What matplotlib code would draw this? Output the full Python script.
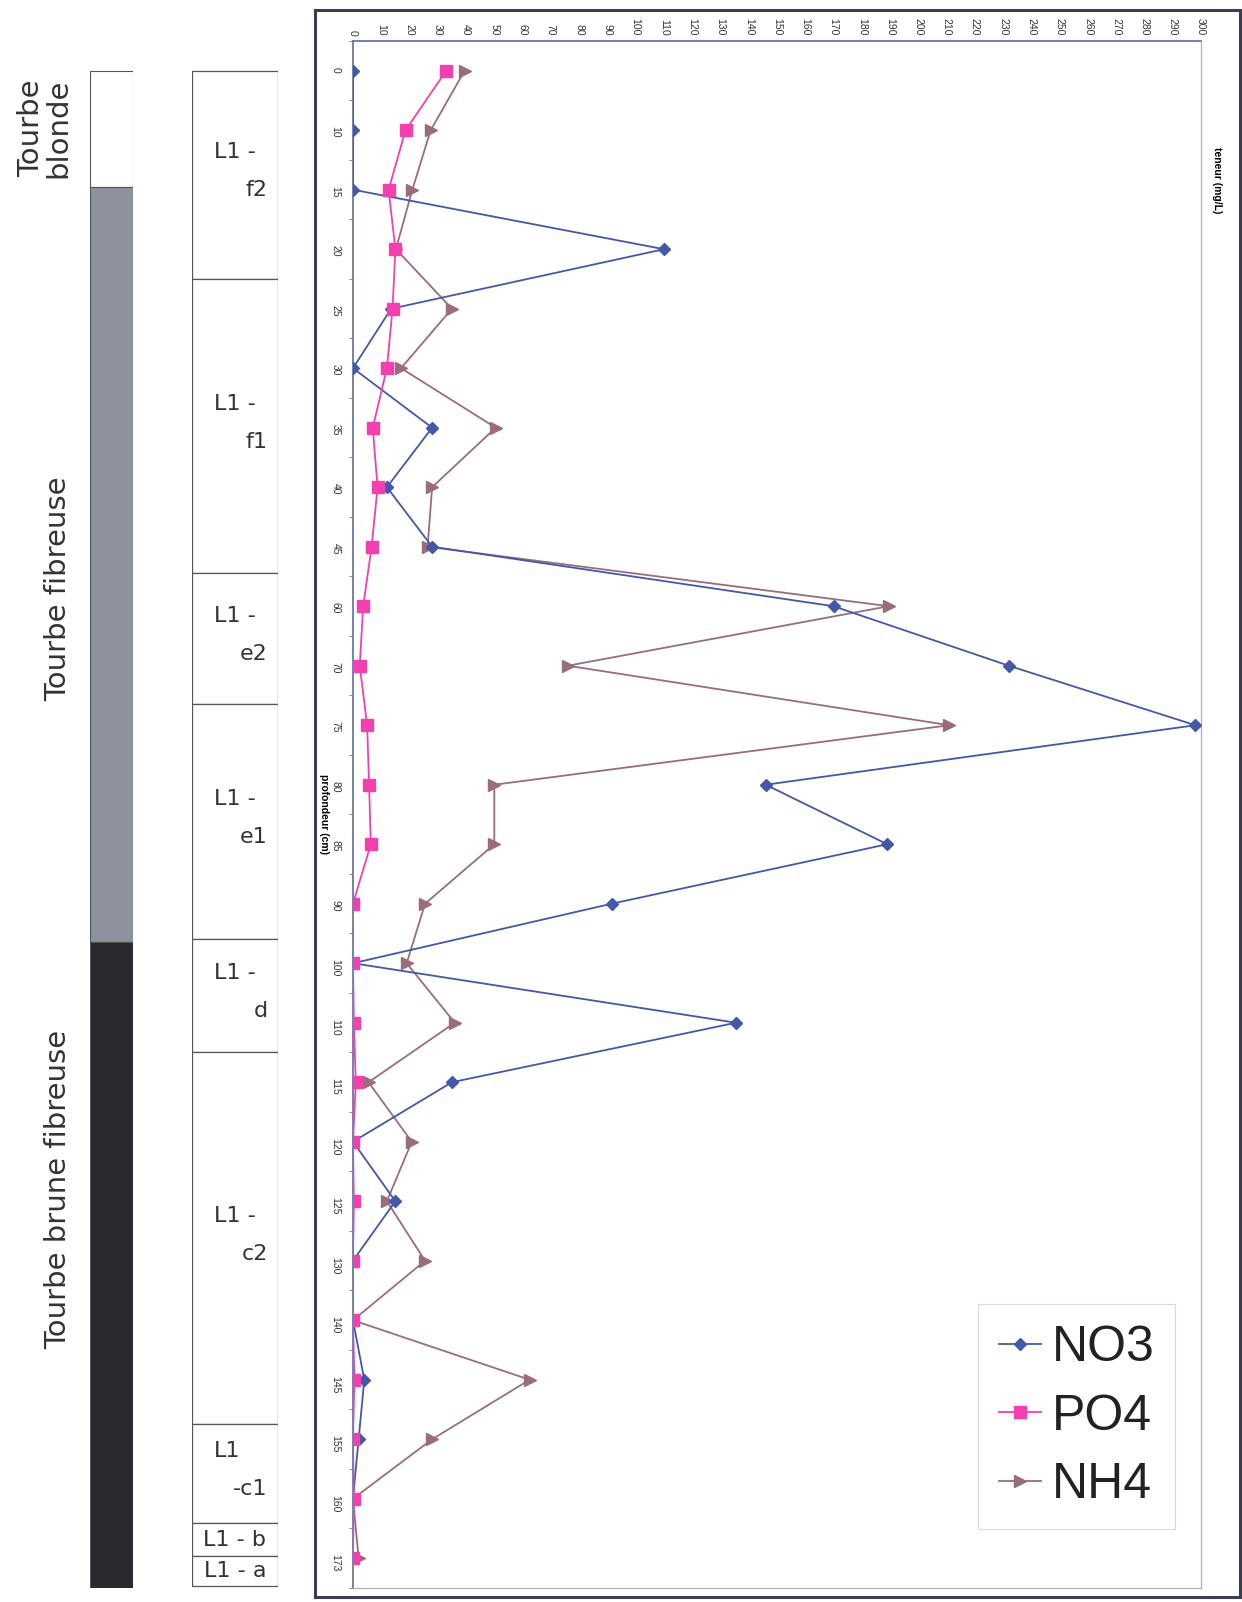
import numpy as np
import matplotlib
matplotlib.use("Agg")
import matplotlib.pyplot as plt
from matplotlib.patches import Rectangle

# === DONNÉES ===
profondeurs = ["0", "10", "15", "20", "25", "30", "35", "40", "45", "60", "70", "75", "80",
               "85", "90", "100", "110", "115", "120", "125", "130", "140", "145", "155", "160", "173"]
no3 = [0, 0, 0, 110, 13.5, 0, 28, 12, 28, 170, 232, 298, 146,
       189, 91.5, 0, 135.5, 35, 0, 15, 0, 0, 4, 2, 0, 0]
po4 = [33, 18.6, 12.6, 15, 14, 12, 7, 8.7, 6.6, 3.6, 2.4, 5, 5.7,
       6.3, 0, 0, 0.3, 1, 0, 0.3, 0, 0, 0.5, 0, 0.3, 0]
nh4 = [39.5, 27.5, 21, 15.2, 35, 17, 50.5, 28, 26.4, 189.5, 76, 211, 50,
       50, 25.5, 19, 36, 5.5, 20.8, 12, 25.5, 0, 62.5, 28, 0, 2]

# lithologie (limites en rang de profondeur)
litho_noms = ["Tourbe\nblonde", "Tourbe fibreuse", "Tourbe brune fibreuse"]
litho_debut = [0, 1.95, 14.65]
litho_fin = [1.95, 14.65, 25.5]

# unités
unites_haut = ["L1 -", "L1 -", "L1 -", "L1 -", "L1 -", "L1 -", "L1", None, None]
unites_bas = ["f2", "f1", "e2", "e1", "d", "c2", "-c1", "L1 - b", "L1 - a"]
unites_debut = [0, 3.5, 8.45, 10.65, 14.6, 16.5, 22.75, 24.4, 24.97]
unites_fin = [3.5, 8.45, 10.65, 14.6, 16.5, 22.75, 24.4, 24.97, 25.47]

# === STYLE ===
litho_couleurs = ["white", "#8e929e", "#2a292e"]
litho_label_y = [0.97, 8.7, 18.8]
litho_label_x = [-1.05, -0.74, -0.74]
c_no3 = "#4358a8"
c_po4 = "#f43fae"
c_nh4 = "#9a6c7c"
police_gauche = "DejaVu Sans"
couleur_texte = "#333333"

fig = plt.figure(figsize=(12.42, 16.02), dpi=100)
y_bas, h_ax = 0.00874, 0.9657

ax = fig.add_axes([0.2842, y_bas, 0.6828, h_ax])
y = np.arange(len(profondeurs))

ax.plot(no3, y, color=c_no3, marker="D", markersize=6.5, linewidth=1.3, label="NO3", zorder=3)
ax.plot(po4, y, color=c_po4, marker="s", markersize=8.5, linewidth=1.3, label="PO4", zorder=4)
ax.plot(nh4, y, color=c_nh4, marker=">", markersize=9, linewidth=1.3, label="NH4", zorder=2)

ax.set_xlim(0, 300)
ax.set_ylim(len(profondeurs) - 0.5, -0.5)
ax.xaxis.tick_top()
ax.set_xticks(range(0, 301, 10))
ax.tick_params(axis="x", length=0, pad=4, labelsize=7.5, labelrotation=-90, colors="#333333")
ax.set_yticks(y)
ax.set_yticklabels(profondeurs)
ax.set_yticks(np.arange(-0.5, len(profondeurs), 1), minor=True)
ax.tick_params(axis="y", which="major", length=0, pad=9, labelsize=7.5, labelrotation=-90, colors="#333333")
ax.tick_params(axis="y", which="minor", length=3, color="#6a78a8")
for lab in ax.get_xticklabels() + ax.get_yticklabels():
    lab.set_fontfamily("Liberation Sans")
ax.set_ylabel("profondeur (cm)", rotation=-90, fontsize=7.5, fontweight="bold",
              family="Liberation Sans")
ax.yaxis.set_label_coords(-0.04, 0.5)
ax.text(1.019, 0.91, "teneur (mg/L)", transform=ax.transAxes, rotation=-90,
        ha="center", va="center", fontsize=7.5, fontweight="bold", family="Liberation Sans")

for s in ["left", "top"]:
    ax.spines[s].set_color("#6a78a8")
    ax.spines[s].set_linewidth(1.3)
for s in ["right", "bottom"]:
    ax.spines[s].set_color("#a9b1cf")
    ax.spines[s].set_linewidth(0.9)

leg = ax.legend(loc="lower left", bbox_to_anchor=(0.737, 0.038), prop={"family": "Liberation Sans", "size": 36},
                frameon=True, fancybox=False, edgecolor="#d0d0d8", handlelength=0.85,
                handletextpad=0.2, labelspacing=0.45, borderpad=0.42, borderaxespad=0)
leg.get_frame().set_linewidth(0.8)
for t in leg.get_texts():
    t.set_color("#222222")

# cadre extérieur du graphique
fig.patches.append(Rectangle((0.2536, 0.0031), 0.7448, 0.9907, transform=fig.transFigure,
                             fill=False, edgecolor="#3a3d55", linewidth=2.2))

# === COLONNE LITHOLOGIQUE ===
ax_l = fig.add_axes([0.0725, y_bas, 0.0346, h_ax], sharey=ax)
ax_l.set_xlim(0, 1)
hauteurs = np.array(litho_fin) - np.array(litho_debut)
ax_l.bar(0.5, hauteurs, bottom=litho_debut, width=1, color=litho_couleurs,
         edgecolor="#555555", linewidth=0.8)
for nom, ly, lx in zip(litho_noms, litho_label_y, litho_label_x):
    ax_l.text(lx, ly, nom, rotation=90, ha="center", va="center", fontsize=21,
              family=police_gauche, color=couleur_texte, linespacing=0.95, clip_on=False)
ax_l.axis("off")

# === UNITÉS ===
ax_u = fig.add_axes([0.1546, y_bas, 0.0692, h_ax], sharey=ax)
ax_u.set_xlim(0, 1)
hauteurs_u = np.array(unites_fin) - np.array(unites_debut)
ax_u.bar(0.5, hauteurs_u, bottom=unites_debut, width=1, color="white",
         edgecolor="#555555", linewidth=0.9)
for haut, bas, d0, d1 in zip(unites_haut, unites_bas, unites_debut, unites_fin):
    milieu = (d0 + d1) / 2
    if haut is None:
        ax_u.text(0.5, milieu, bas, ha="center", va="center", fontsize=16,
                  family=police_gauche, color=couleur_texte)
    else:
        ax_u.text(0.26, milieu - 0.38, haut, ha="left", va="center", fontsize=16,
                  family=police_gauche, color=couleur_texte)
        ax_u.text(0.88, milieu + 0.26, bas, ha="right", va="center", fontsize=16,
                  family=police_gauche, color=couleur_texte)
ax_u.axis("off")

fig.savefig("out.png", dpi=100)
